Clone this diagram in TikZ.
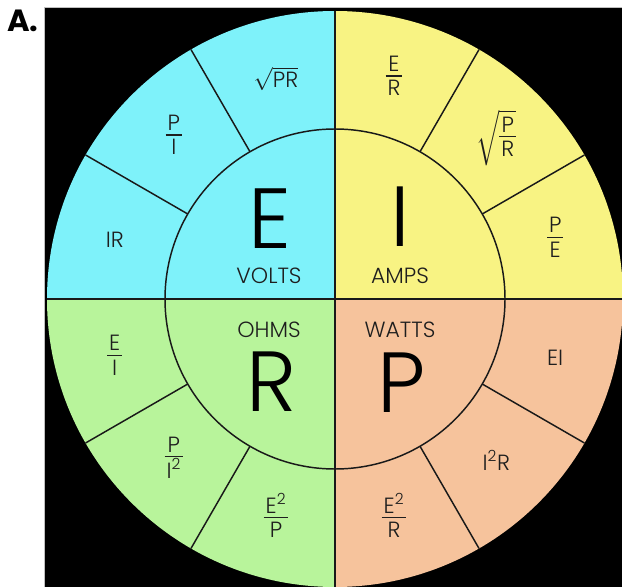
\documentclass[tikz,border=0pt]{standalone}
\usepackage{fontspec}
\usepackage{amsmath}
\IfFontExistsTF{Poppins Light}
  {\setmainfont{Poppins Light}}
  {\setmainfont{Poppins}}
\newfontfamily\tagfont{Poppins}
\definecolor{voltc}{HTML}{7EF2FA}
\definecolor{ampc}{HTML}{F8F383}
\definecolor{ohmc}{HTML}{B8F49B}
\definecolor{wattc}{HTML}{F6C39C}
\definecolor{inkc}{HTML}{1E1E1E}
\setlength{\arrayrulewidth}{1.2pt}
% stacked fraction built from text-font letters
\newcommand{\fracx}[2]{\begin{tabular}{@{\hspace{1.5pt}}c@{\hspace{1.5pt}}}#1\\[-3pt]\hline\noalign{\vskip1pt}#2\end{tabular}}
\begin{document}
\begin{tikzpicture}[x=0.75pt,y=0.75pt,
  bigletter/.style={font=\fontsize{64}{64}\selectfont, text=black, inner sep=0pt, anchor=base, text height=45pt, text depth=0pt},
  unitlabel/.style={font=\fontsize{16.5}{19}\selectfont, text=inkc, inner sep=0pt, anchor=base, text height=11.5pt, text depth=0pt},
  formula/.style={font=\fontsize{16.5}{19}\selectfont, text=inkc, inner sep=0pt},
  rim/.style={line width=1.1pt, black!90}]
\useasboundingbox (0,0) rectangle (622,587);
\fill[white] (0,0) rectangle (622,587);
\fill[black] (45,0) rectangle (622,579);
\draw[gray!50, line width=0.8pt] (44.6,0) -- (44.6,579.4) -- (622,579.4);
\node[font=\tagfont\bfseries\fontsize{23}{23}\selectfont, anchor=base, inner sep=0pt] (tag) at (23,555) {A.};
\coordinate (o) at (335,288);
% four coloured quadrants
\fill[voltc] (o) -- ++(90:216pt) arc[start angle=90, end angle=180, radius=216pt] -- cycle;
\fill[ampc] (o) -- ++(0:216pt) arc[start angle=0, end angle=90, radius=216pt] -- cycle;
\fill[ohmc] (o) -- ++(180:216pt) arc[start angle=180, end angle=270, radius=216pt] -- cycle;
\fill[wattc] (o) -- ++(270:216pt) arc[start angle=270, end angle=360, radius=216pt] -- cycle;
% dividing lines
\draw[rim] (o) circle[radius=127.5pt];
\begin{scope}[shift={(o)}]
  \draw[rim] (90:216pt) -- (270:216pt);
  \draw[rim] (0:216pt) -- (180:216pt);
  \foreach \a in {30,60,120,150,210,240,300,330}
    \draw[rim] (\a:127.5pt) -- (\a:216pt);
  % formulas in the outer ring
  \node[formula] (f105) at (105:171pt) {$\sqrt{\text{PR}}$};
  \node[formula] (f135) at (135:171pt) {\fracx{P}{I}};
  \node[formula] (f165) at (165:171pt) {IR};
  \node[formula] (f75) at (75:171pt) {\fracx{E}{R}};
  \node[formula] (f45) at (45:171pt) {$\sqrt{\fracx{P}{R}}$};
  \node[formula] (f15) at (15:171pt) {\fracx{P}{E}};
  \node[formula] (f345) at (-15:171pt) {EI};
  \node[formula] (f315) at (-45:171pt) {I\textsuperscript{2}R};
  \node[formula] (f285) at (-75:171pt) {\fracx{E\textsuperscript{2}}{R}};
  \node[formula] (f195) at (195:171pt) {\fracx{E}{I}};
  \node[formula] (f225) at (225:171pt) {\fracx{P}{I\textsuperscript{2}}};
  \node[formula] (f255) at (255:171pt) {\fracx{E\textsuperscript{2}}{P}};
\end{scope}
% quantities and units in the inner circle
\node[bigletter] (E) at (270,339) {E};
\node[bigletter] (I) at (400,340) {I};
\node[bigletter] (R) at (272,176) {R};
\node[bigletter] (P) at (402,175) {P};
\node[unitlabel] (volts) at (269,304) {VOLTS};
\node[unitlabel] (amps) at (400,304) {AMPS};
\node[unitlabel] (ohms) at (269,250) {OHMS};
\node[unitlabel] (watts) at (400,250) {WATTS};
\end{tikzpicture}
\end{document}
